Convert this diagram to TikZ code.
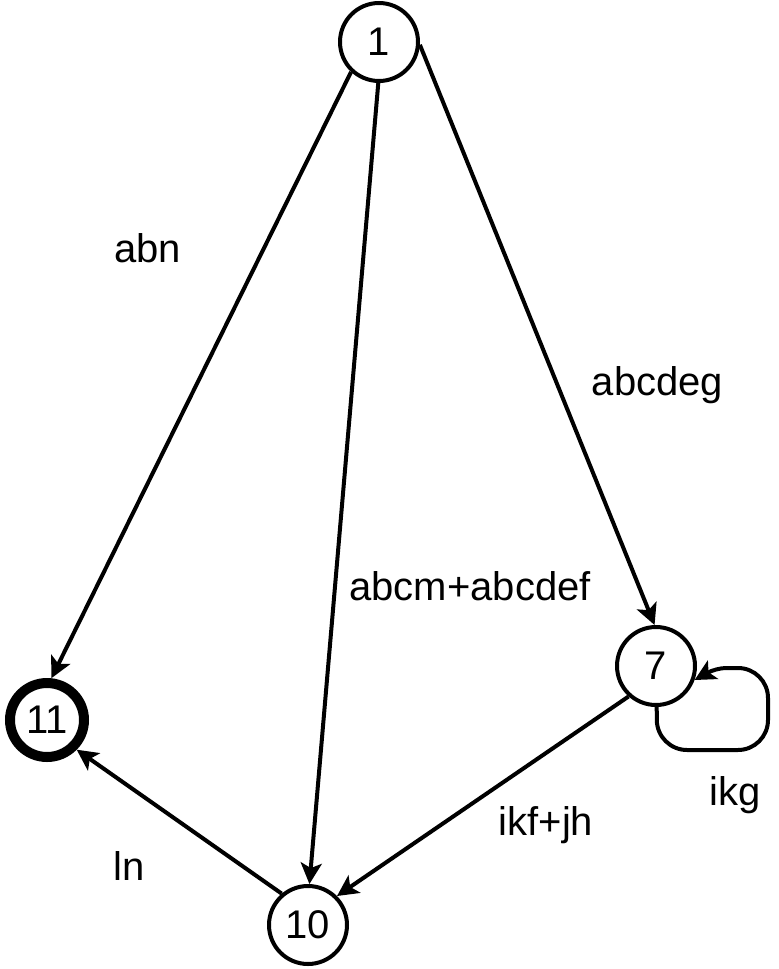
\documentclass[tikz,border=0pt]{standalone}
\usepackage{fontspec}
\setmainfont{Liberation Sans}
\usetikzlibrary{arrows.meta}
\begin{document}
\begin{tikzpicture}[x=0.5pt,y=-0.5pt,
  state/.style={circle,draw,line width=2pt,inner sep=0pt,minimum size=39pt,font=\fontsize{20}{24}\selectfont},
  final/.style={state,line width=5pt,minimum size=37pt},
  edge/.style={line width=2pt,-{Stealth[length=10.5pt,width=10.5pt,inset=2.5pt]}},
  lbl/.style={anchor=base,inner sep=0pt,font=\fontsize{20}{24}\selectfont}]
\useasboundingbox (0,0) rectangle (778,969);
\node[state] (n1) at (379,42) {1};
\node[state] (n7) at (656,666) {7};
\node[final] (n11) at (47,720) {11};
\node[state] (n10) at (308,925) {10};
\draw[edge] (n1.-133) -- (n11.84);
\draw[edge] (n1.-91) -- (n10.88);
\draw[edge] (n1.-4) -- (n7.92);
\draw[edge] (n7.-132) -- (n10.45);
\draw[edge] (n10.130) -- (n11.-45);
\coordinate (l1) at (657,750);
\coordinate (l2) at (768,750);
\coordinate (l3) at (768,668);
\coordinate (l4) at (716,668);
\draw[edge] (n7.-89) [rounded corners=15pt] -- (l1) -- (l2) -- (l3) [rounded corners=5pt] -- (l4) [sharp corners] -- (n7.-20);
\node[lbl] (t1) at (147.5,262) {abn};
\node[lbl] (t2) at (657.5,395) {abcdeg};
\node[lbl] (t3) at (470,600) {abcm+abcdef};
\node[lbl] (t4) at (546,835) {ikf+jh};
\node[lbl] (t5) at (735,805) {ikg};
\node[lbl] (t6) at (129,880) {ln};
\end{tikzpicture}
\end{document}
